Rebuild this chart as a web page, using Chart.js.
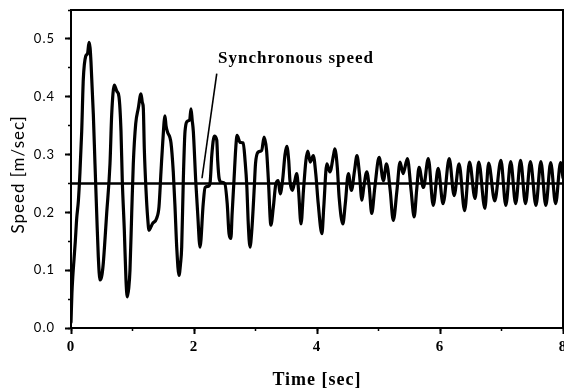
<!DOCTYPE html>
<html><head><meta charset="utf-8">
<script src="https://cdn.jsdelivr.net/npm/chart.js@4.4.1/dist/chart.umd.min.js"></script>
<style>html,body{margin:0;padding:0;background:#fff;}canvas{display:block;}</style>
</head><body>
<canvas id="c" width="564" height="392"></canvas>
<script>
// ---- data ----
const timeSec = [
0.000,0.015,0.030,0.050,0.070,0.093,0.120,0.146,0.174,0.200,0.239,0.270,0.293,0.310,0.325,0.363,0.390,0.418,0.444,0.472,
0.500,0.525,0.580,0.634,0.662,0.704,0.743,0.780,0.813,0.834,0.867,0.894,0.915,0.940,0.959,0.987,1.013,1.052,1.094,1.138,
1.160,1.176,1.192,1.220,1.247,1.268,1.300,1.322,1.393,1.431,1.463,1.491,1.528,1.545,1.566,1.626,1.663,1.691,1.719,1.756,
1.780,1.800,1.826,1.854,1.898,1.930,1.951,1.970,1.989,2.028,2.060,2.098,2.150,2.180,2.230,2.260,2.290,2.330,2.370,2.385,
2.410,2.450,2.500,2.540,2.570,2.600,2.620,2.650,2.680,2.700,2.750,2.800,2.830,2.860,2.880,2.910,2.940,2.980,3.000,3.040,
3.100,3.140,3.180,3.210,3.250,3.290,3.330,3.370,3.400,3.440,3.480,3.510,3.540,3.560,3.600,3.640,3.670,3.700,3.740,3.780,
3.820,3.850,3.890,3.940,3.980,4.020,4.080,4.110,4.160,4.210,4.270,4.290,4.330,4.360,4.420,4.460,4.510,4.560,4.610,4.650,
4.690,4.730,4.760,4.810,4.850,4.890,4.940,5.010,5.080,5.130,5.190,5.240,5.300,5.350,5.400,5.470,5.530,5.580,5.620,5.660,
5.730,5.810,5.890,5.970,6.050,6.150,6.230,6.310,6.400,6.480,6.570,6.630,6.730,6.790,6.890,6.990,7.070,7.150,7.230,7.310,
7.390,7.470,7.560,7.640,7.720,7.800,7.880,7.960,8.000
];
const speed = [
0.010,0.060,0.090,0.120,0.150,0.190,0.220,0.270,0.340,0.430,0.470,0.475,0.494,0.485,0.460,0.370,0.284,0.198,0.123,0.083,
0.090,0.112,0.198,0.284,0.370,0.420,0.410,0.400,0.340,0.255,0.169,0.083,0.054,0.070,0.100,0.198,0.284,0.353,0.380,0.405,
0.390,0.380,0.310,0.238,0.190,0.169,0.175,0.180,0.190,0.210,0.270,0.320,0.367,0.350,0.340,0.320,0.270,0.210,0.140,0.091,
0.110,0.140,0.255,0.340,0.358,0.360,0.379,0.360,0.340,0.255,0.198,0.140,0.215,0.243,0.245,0.250,0.300,0.332,0.325,0.290,
0.258,0.252,0.250,0.215,0.163,0.155,0.198,0.255,0.313,0.333,0.321,0.320,0.290,0.243,0.186,0.140,0.169,0.243,0.284,0.304,
0.307,0.330,0.307,0.255,0.178,0.209,0.249,0.255,0.232,0.255,0.300,0.314,0.290,0.255,0.238,0.255,0.267,0.238,0.180,0.238,
0.290,0.306,0.287,0.298,0.267,0.215,0.163,0.209,0.284,0.270,0.300,0.310,0.278,0.226,0.180,0.215,0.267,0.238,0.272,0.298,
0.267,0.221,0.243,0.270,0.243,0.198,0.243,0.295,0.255,0.284,0.238,0.186,0.238,0.287,0.267,0.293,0.238,0.192,0.238,0.278,
0.243,0.293,0.212,0.276,0.215,0.293,0.229,0.284,0.203,0.287,0.224,0.287,0.207,0.285,0.220,0.290,0.212,0.288,0.215,0.290,
0.215,0.288,0.212,0.288,0.212,0.286,0.215,0.286,0.260
];
const syncTime = [0, 8];
const syncSpeed = [0.25, 0.25];
const arrowTime = [2.13, 2.37];
const arrowSpeed = [0.259, 0.440];
const annotationText = 'Synchronous speed';
const annotationTime = 2.39;
const annotationSpeed = 0.466;
const xTitle = 'Time [sec]';
const yTitle = 'Speed [m/sec]  ';

const pts = (xs, ys) => xs.map((x, i) => ({x: x, y: ys[i]}));

const framePlugin = {
  id: 'frame',
  beforeDraw(chart) { chart.ctx.letterSpacing = '1px'; },
  afterDatasetsDraw(chart) {
    const {ctx, chartArea: a, scales} = chart;
    ctx.save();
    ctx.strokeStyle = '#000';
    ctx.lineWidth = 2;
    ctx.beginPath();
    ctx.moveTo(a.left, a.top);
    ctx.lineTo(a.right, a.top);
    ctx.lineTo(a.right, a.bottom);
    ctx.stroke();
    ctx.font = 'bold 17px "Liberation Serif"';
    ctx.fillStyle = '#000';
    ctx.textBaseline = 'middle';
    ctx.textAlign = 'left';
    ctx.fillText(annotationText, scales.x.getPixelForValue(annotationTime), scales.y.getPixelForValue(annotationSpeed));
    ctx.restore();
  }
};

new Chart(document.getElementById('c'), {
  type: 'line',
  data: {
    datasets: [
      {data: pts(timeSec, speed), borderColor: '#000', borderWidth: 3.2, pointRadius: 0,
       cubicInterpolationMode: 'monotone', borderJoinStyle: 'round', borderCapStyle: 'round'},
      {data: pts(syncTime, syncSpeed), borderColor: '#000', borderWidth: 2.4, pointRadius: 0},
      {data: pts(arrowTime, arrowSpeed), borderColor: '#000', borderWidth: 1.6, pointRadius: 0}
    ]
  },
  options: {
    responsive: false,
    animation: false,
    devicePixelRatio: 1,
    layout: {padding: {left: 0, top: 10, right: 1, bottom: 0}},
    plugins: {legend: {display: false}, tooltip: {enabled: false}},
    scales: {
      x: {
        type: 'linear', position: 'bottom', min: 0, max: 8,
        ticks: {stepSize: 2, color: '#000', font: {family: 'Liberation Serif', weight: 'bold', size: 15}, padding: 4, maxRotation: 0, autoSkip: false},
        grid: {drawOnChartArea: false, tickLength: 6, tickWidth: 2, tickColor: '#000'},
        border: {display: true, color: '#000', width: 2},
        title: {display: true, text: xTitle, color: '#000', font: {family: 'Liberation Serif', weight: 'bold', size: 18}, padding: {top: 0, bottom: 1}},
        afterFit(s) { s.height = 64; s.paddingLeft = 0; s.paddingRight = 0; }
      },
      xMinor: {
        type: 'linear', axis: 'x', position: {y: 0}, min: 0, max: 8,
        ticks: {display: false, stepSize: 1},
        grid: {drawOnChartArea: false, tickLength: 3, tickWidth: 1.5, tickColor: '#000'},
        border: {display: false}
      },
      y: {
        type: 'linear', position: 'left', min: 0, max: 0.55,
        ticks: {stepSize: 0.1, includeBounds: false, color: '#000', font: {family: 'Lato', size: 13}, padding: 10,
                callback: v => Number(v).toFixed(1)},
        grid: {drawOnChartArea: false, tickLength: 6, tickWidth: 2, tickColor: '#000'},
        border: {display: true, color: '#000', width: 2},
        title: {display: true, text: yTitle, color: '#000', font: {family: 'Lato', size: 17}, padding: {top: 8, bottom: 0}},
        afterFit(s) { s.width = 71; s.paddingTop = 0; s.paddingBottom = 0; }
      },
      yMinor: {
        type: 'linear', axis: 'y', position: {x: 0}, min: 0, max: 0.55,
        ticks: {display: false, stepSize: 0.05},
        grid: {drawOnChartArea: false, tickLength: 3, tickWidth: 1.5, tickColor: '#000'},
        border: {display: false}
      }
    }
  },
  plugins: [framePlugin]
});
</script>
</body></html>
